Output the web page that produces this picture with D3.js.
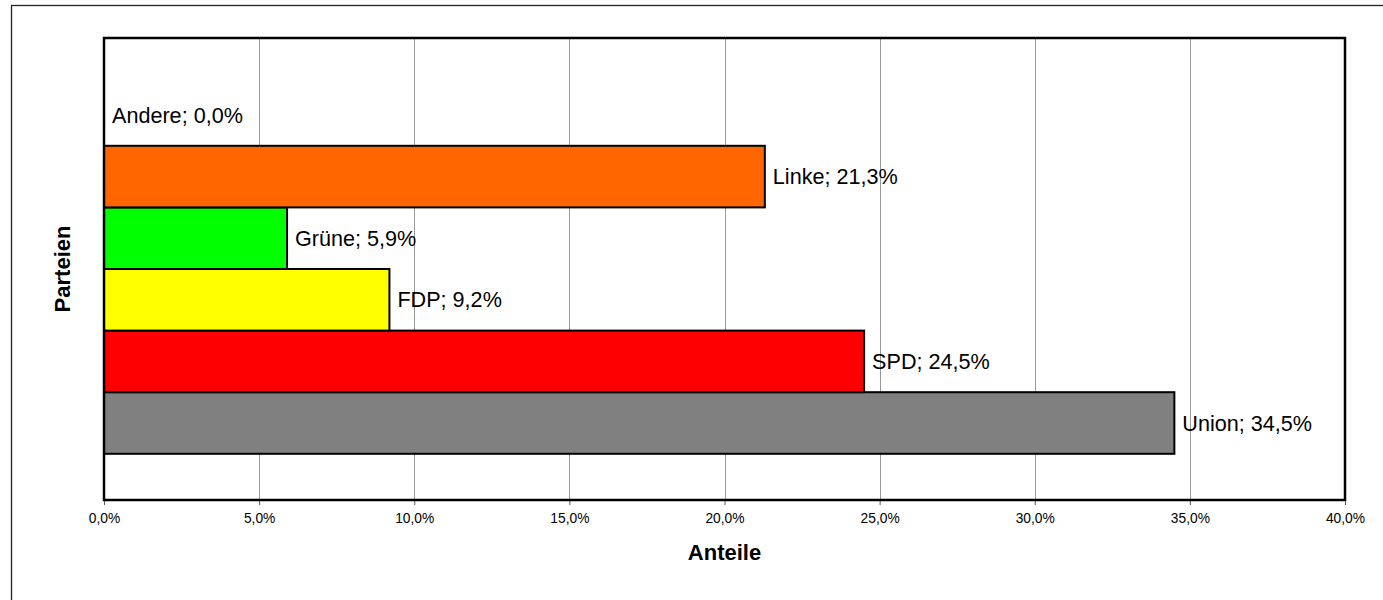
<!DOCTYPE html>
<html>
<head>
<meta charset="utf-8">
<script src="https://cdn.jsdelivr.net/npm/d3@7"></script>
<style>
  html, body { margin: 0; padding: 0; background: #fff; }
  svg { display: block; font-family: "Liberation Sans", Arial, sans-serif; }
</style>
</head>
<body>
<svg id="chart" width="1383" height="600"></svg>
<script>
const categories = ["Union", "SPD", "FDP", "Grüne", "Linke", "Andere"];
const values = [0.345, 0.245, 0.092, 0.059, 0.213, 0.0];
const colors = ["#808080", "#FF0000", "#FFFF00", "#00FF00", "#FF6600", "#FFFFFF"];
const xTicks = [0, 0.05, 0.10, 0.15, 0.20, 0.25, 0.30, 0.35, 0.40];
const xTitle = "Anteile";
const yTitle = "Parteien";

(function () {
const data = categories.map((c, i) => ({ name: c, value: values[i], color: colors[i] }));

const de = d3.formatLocale({ decimal: ",", thousands: ".", grouping: [3], currency: ["", " €"] });
const pct = de.format(".1%");

const svg = d3.select("#chart");
const pL = 104, pR = 1345, pT = 38, pB = 500;

// outer chart border
svg.append("rect")
  .attr("x", 11.5).attr("y", 5.5)
  .attr("width", 1400).attr("height", 700)
  .attr("fill", "none").attr("stroke", "#222").attr("stroke-width", 1.3);

const x = d3.scaleLinear().domain([0, 0.4]).range([pL, pR]);
const y = d3.scaleBand().domain(categories).range([pB, pT]).paddingInner(0).paddingOuter(0.75);

// gridlines
svg.append("g")
  .selectAll("line")
  .data(xTicks.slice(1, -1))
  .join("line")
  .attr("x1", d => Math.round(x(d)) + 0.5).attr("x2", d => Math.round(x(d)) + 0.5)
  .attr("y1", pT).attr("y2", pB)
  .attr("stroke", "#999").attr("stroke-width", 1);

// bars
svg.append("g")
  .selectAll("rect")
  .data(data.filter(d => d.value > 0))
  .join("rect")
  .attr("x", x(0))
  .attr("y", d => y(d.name))
  .attr("width", d => x(d.value) - x(0))
  .attr("height", y.bandwidth())
  .attr("fill", d => d.color)
  .attr("stroke", "#000")
  .attr("stroke-width", 2);

// plot border
svg.append("rect")
  .attr("x", pL).attr("y", pT)
  .attr("width", pR - pL).attr("height", pB - pT)
  .attr("fill", "none").attr("stroke", "#000").attr("stroke-width", 2.5);

// x axis
const xAxis = d3.axisBottom(x).tickValues(xTicks).tickFormat(pct).tickSize(4).tickPadding(8);
const gx = svg.append("g").attr("transform", `translate(0,${pB + 1})`).call(xAxis);
gx.select(".domain").remove();
gx.selectAll(".tick line").attr("stroke", "#555");
gx.selectAll(".tick text")
  .attr("font-family", "Liberation Sans, Arial, sans-serif")
  .attr("font-size", 13.8).attr("fill", "#000");

// data labels
svg.append("g")
  .selectAll("text")
  .data(data)
  .join("text")
  .attr("x", d => x(d.value) + 8)
  .attr("y", d => y(d.name) + y.bandwidth() / 2 + 7.5)
  .attr("font-size", 21.6)
  .attr("fill", "#000")
  .text(d => `${d.name}; ${pct(d.value)}`);

// axis titles
svg.append("text")
  .attr("x", (pL + pR) / 2).attr("y", 560)
  .attr("text-anchor", "middle")
  .attr("font-size", 22).attr("font-weight", "bold")
  .text(xTitle);

svg.append("text")
  .attr("transform", `translate(70,${(pT + pB) / 2}) rotate(-90)`)
  .attr("text-anchor", "middle")
  .attr("font-size", 22).attr("font-weight", "bold")
  .text(yTitle);
})();
</script>
</body>
</html>
